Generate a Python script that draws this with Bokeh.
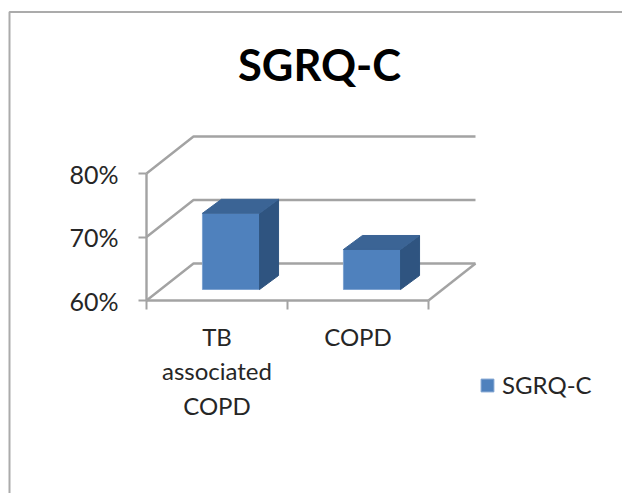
from bokeh.plotting import figure
from bokeh.models import Range1d, FixedTicker, Legend, LegendItem, Label
from bokeh.embed import file_html
from bokeh.resources import INLINE

# Data
title_text = "SGRQ-C"
categories = ["TB\nassociated\nCOPD", "COPD"]
values = [72, 66.3]
y_ticks = [60, 70, 80]
series_name = "SGRQ-C"

# Layout (page pixels -> data)
W, H = 622, 493
X0_PX, CAT_PX = 146, 141          # px of category 0, px per category
Y0_PX, UNIT_PX = 300, 6.35        # px of 60 %, px per percent
Y_BASE = y_ticks[0]
DX, DY = 47, 37                   # depth of the box
BAR_W = 0.405
BAR_DX, BAR_DY = 14, 11           # where the bar's front face sits in depth
BD_X, BD_Y = 19, 14               # depth of the bar

def xd(px): return (px - X0_PX) / CAT_PX
def yd(py): return Y_BASE + (Y0_PX - py) / UNIT_PX
ox = lambda px: px / CAT_PX
oy = lambda px: px / UNIT_PX

p = figure(width=W, height=H, output_backend="svg", toolbar_location=None,
           x_range=Range1d(xd(0), xd(W)),
           y_range=Range1d(yd(H), yd(0)),
           min_border=0, min_border_left=0, min_border_right=0,
           min_border_top=0, min_border_bottom=0,
           tools="")
p.outline_line_color = None
p.grid.visible = False
GRID = "#A3A3A3"
n = len(categories)

# Outer chart frame (left and top only: the picture is cropped there)
p.line([xd(9), xd(9), xd(W)], [yd(H), yd(11.5), yd(11.5)], line_color="#ABABAB", line_width=2)

# Walls and gridlines
for t in y_ticks:
    p.line([0, ox(DX), n + ox(DX)], [t, t + oy(DY), t + oy(DY)], line_color=GRID, line_width=2.4)
p.line([n, n + ox(DX)], [Y_BASE, Y_BASE + oy(DY)], line_color=GRID, line_width=2.4)

# Bars: the front face stands BAR_DY behind the front of the floor
lefts = [i + 0.5 - BAR_W / 2 + ox(BAR_DX) for i in range(n)]
rights = [l + BAR_W for l in lefts]
bottoms = [Y_BASE + oy(BAR_DY)] * n
tops = [v + oy(BAR_DY) for v in values]
fronts = p.quad(left=lefts, right=rights, bottom=bottoms, top=tops,
                fill_color="#4F81BD", line_color="#7DA2D0", line_width=1)
side_x, side_y, top_x, top_y = [], [], [], []
for l, r, b, v in zip(lefts, rights, bottoms, tops):
    side_x.append([r, r + ox(BD_X), r + ox(BD_X), r])
    side_y.append([b, b + oy(BD_Y), v + oy(BD_Y), v])
    top_x.append([l, l + ox(BD_X), r + ox(BD_X), r])
    top_y.append([v, v + oy(BD_Y), v + oy(BD_Y), v])
p.patches(side_x, side_y, fill_color="#2F5480", line_color="#2F5480")
p.patches(top_x, top_y, fill_color="#3B6495", line_color="#3B6495")

# Axes
ya = p.yaxis[0]
ya.fixed_location = 0
ya.bounds = (y_ticks[0], y_ticks[-1])
ya.ticker = FixedTicker(ticks=y_ticks)
ya.major_label_overrides = {t: f"{t}%" for t in y_ticks}
ya.major_label_text_font = "Lato"
ya.major_label_text_font_size = "25px"
ya.major_label_text_color = "#262626"
ya.major_label_standoff = 20
ya.axis_line_color = GRID
ya.axis_line_width = 2.4
ya.major_tick_line_color = GRID
ya.major_tick_line_width = 2
ya.major_tick_out = 8
ya.major_tick_in = 0
ya.minor_tick_line_color = None

xa = p.xaxis[0]
xa.fixed_location = Y_BASE
xa.bounds = (0, n)
centers = [i + 0.5 for i in range(n)]
xa.ticker = FixedTicker(ticks=centers, minor_ticks=list(range(n + 1)))
xa.major_label_overrides = dict(zip(centers, categories))
xa.major_label_text_font = "Lato"
xa.major_label_text_font_size = "24px"
xa.major_label_text_color = "#262626"
xa.major_label_standoff = 12
xa.axis_line_color = GRID
xa.axis_line_width = 2.4
xa.major_tick_line_color = None
xa.minor_tick_line_color = GRID
xa.minor_tick_line_width = 2
xa.minor_tick_out = 9
xa.minor_tick_in = 0

# Title
p.add_layout(Label(x=xd(319), y=yd(63), text=title_text, text_align="center",
                   text_baseline="middle", text_font="Lato", text_font_style="bold",
                   text_font_size="43.5px", text_color="#000000"))

# Legend
legend = Legend(items=[LegendItem(label=series_name, renderers=[fronts])],
                location=(479, H - 393 - 6), glyph_width=16, glyph_height=16,
                label_text_font="Lato", label_text_font_size="24px", label_text_color="#262626",
                label_standoff=7, background_fill_alpha=0, border_line_color=None,
                margin=0, padding=4)
p.add_layout(legend, "center")

open("out.html", "w").write(file_html(p, INLINE))
